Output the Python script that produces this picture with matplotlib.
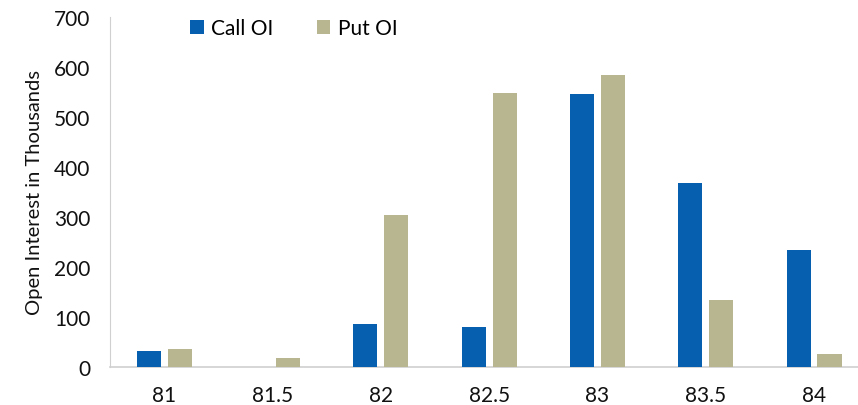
import matplotlib
matplotlib.use("Agg")
import matplotlib.pyplot as plt
import numpy as np

strikes = ["81", "81.5", "82", "82.5", "83", "83.5", "84"]
call_oi = [32, 0, 85, 80, 545, 367, 233]
put_oi = [35, 17, 304, 548, 583, 134, 25]

plt.rcParams['font.family'] = ['Lato', 'DejaVu Sans']

fig = plt.figure(figsize=(8.58, 4.06), dpi=100)
ax = fig.add_axes([110/858, 38.3/406, (858-110)/858, 349.7/406])

x = np.arange(len(strikes))
w = 0.222
off = 0.142
ax.bar(x - off, call_oi, width=w, color="#075FB0", label="Call OI", zorder=3)
ax.bar(x + off, put_oi, width=w, color="#B8B690", label="Put OI", zorder=3)

ax.set_xlim(-0.5, 6.405)
ax.set_ylim(0, 700)
ax.set_yticks(range(0, 701, 100))
ax.set_xticks(x)
ax.set_xticklabels(strikes)
ax.tick_params(axis='both', length=0, labelsize=15, colors="#111111")
ax.tick_params(axis='x', pad=13)
ax.tick_params(axis='y', pad=14)

for s in ["top", "right"]:
    ax.spines[s].set_visible(False)
ax.spines["left"].set_color("#D0D0D0")
ax.spines["bottom"].set_color("#D0D0D0")
ax.spines["bottom"].set_linewidth(1.2)

ax.set_ylabel("Open Interest in Thousands", fontsize=14.5, color="#111111", labelpad=8)

leg = ax.legend(loc="upper left", bbox_to_anchor=(0.082, 1.05), ncol=2, frameon=False,
                fontsize=15, handlelength=0.65, handleheight=0.65, handletextpad=0.35,
                columnspacing=2.1)

fig.savefig("out.png", dpi=100)
